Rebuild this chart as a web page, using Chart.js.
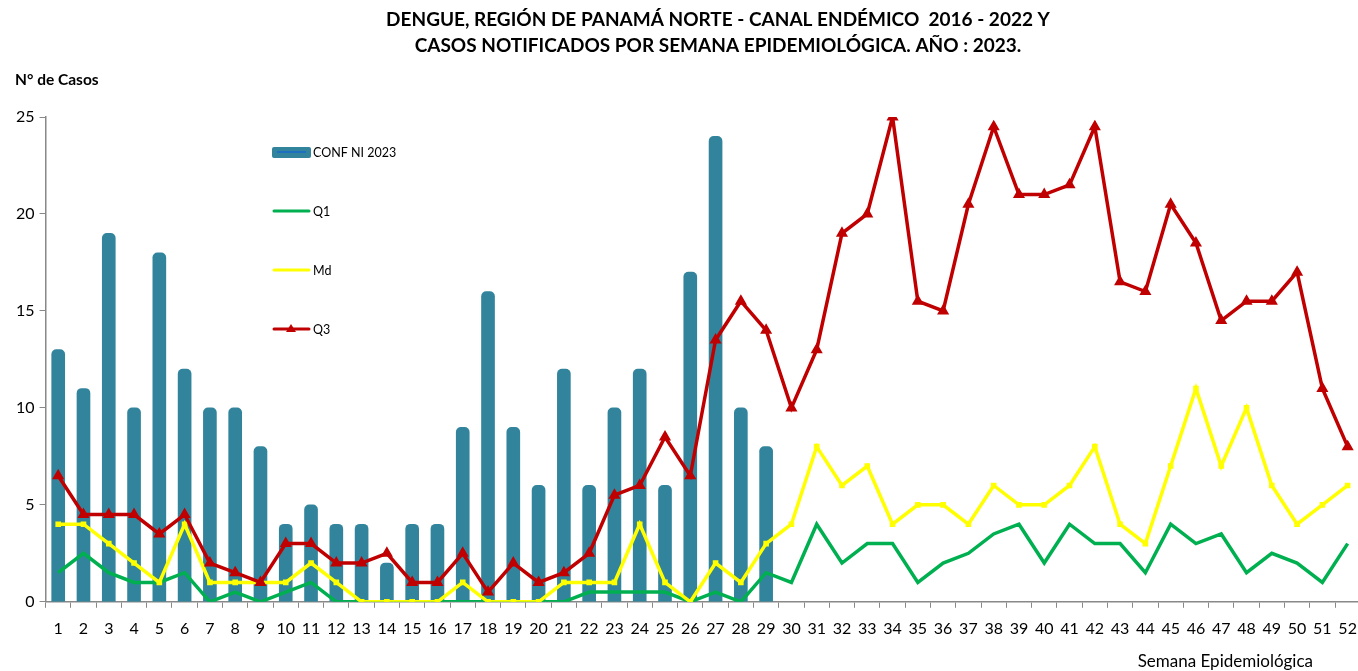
<!DOCTYPE html>
<html lang="es">
<head>
<meta charset="UTF-8">
<title>Dengue - Canal endémico Panamá Norte</title>
<script src="https://cdn.jsdelivr.net/npm/chart.js"></script>
<style>
    body { margin: 0; background: #fff; overflow: hidden; }
    #wrap { width: 1358px; height: 671px; overflow: hidden; }
</style>
</head>
<body>
<div id="wrap"><canvas id="canal" width="1368" height="671"></canvas></div>
<script>
// semanas epidemiologicas
var semanas = [];
for (var s = 1; s <= 52; s++) semanas.push(String(s));

// casos confirmados 2023 (hasta semana 29)
var confNi2023 = [13, 11, 19, 10, 18, 12, 10, 10, 8, 4, 5, 4, 4, 2, 4, 4, 9, 16, 9, 6,
                  12, 6, 10, 12, 6, 17, 24, 10, 8];

// canal endemico 2016 - 2022
var q1 = [1.5, 2.5, 1.5, 1, 1, 1.5, 0, 0.5, 0, 0.5, 1, 0, 0, 0, 0, 0, 0, 0, 0, 0,
          0, 0.5, 0.5, 0.5, 0.5, 0, 0.5, 0, 1.5, 1, 4, 2, 3, 3, 1, 2, 2.5, 3.5, 4, 2,
          4, 3, 3, 1.5, 4, 3, 3.5, 1.5, 2.5, 2, 1, 3];
var md = [4, 4, 3, 2, 1, 4, 1, 1, 1, 1, 2, 1, 0, 0, 0, 0, 1, 0, 0, 0,
          1, 1, 1, 4, 1, 0, 2, 1, 3, 4, 8, 6, 7, 4, 5, 5, 4, 6, 5, 5,
          6, 8, 4, 3, 7, 11, 7, 10, 6, 4, 5, 6];
var q3 = [6.5, 4.5, 4.5, 4.5, 3.5, 4.5, 2, 1.5, 1, 3, 3, 2, 2, 2.5, 1, 1, 2.5, 0.5, 2, 1,
          1.5, 2.5, 5.5, 6, 8.5, 6.5, 13.5, 15.5, 14, 10, 13, 19, 20, 25, 15.5, 15, 20.5, 24.5, 21, 21,
          21.5, 24.5, 16.5, 16, 20.5, 18.5, 14.5, 15.5, 15.5, 17, 11, 8];

var yTicks = [0, 5, 10, 15, 20, 25];

var titulo = ['DENGUE, REGIÓN DE PANAMÁ NORTE - CANAL ENDÉMICO  2016 - 2022 Y',
              'CASOS NOTIFICADOS POR SEMANA EPIDEMIOLÓGICA. AÑO : 2023.'];

var FONT = 'Lato, "Open Sans", sans-serif';

// titulo, leyenda dentro del area y textos sueltos
var extras = {
    id: 'extras',
    afterDraw: function(chart) {
        var c = chart.ctx;
        c.save();
        c.fillStyle = '#000';
        c.textBaseline = 'middle';
        c.textAlign = 'center';
        c.font = 'bold 19px ' + FONT;
        c.fillText(titulo[0], 718, 20);
        c.fillText(titulo[1], 718, 46);

        c.textAlign = 'left';
        c.font = 'bold 15.5px ' + FONT;
        c.fillText('N° de Casos', 15, 80);
        c.font = '17px ' + FONT;
        c.textAlign = 'right';
        c.fillText('Semana Epidemiológica', 1313, 662);

        var x0 = 272, y0 = 152, gap = 59;
        c.textAlign = 'left';
        c.font = '12.5px ' + FONT;
        chart.data.datasets.forEach(function(ds, i) {
            var y = y0 + i * gap;
            if (ds.type === 'bar') {
                c.fillStyle = ds.backgroundColor;
                c.beginPath();
                c.roundRect(x0, y - 5, 39, 11, 2);
                c.fill();
                c.strokeStyle = '#1f6fc0';
                c.lineWidth = 2;
                c.beginPath();
                c.moveTo(x0 + 5, y); c.lineTo(x0 + 34, y); c.stroke();
            } else {
                c.strokeStyle = ds.borderColor;
                c.lineWidth = 3;
                c.lineCap = 'round';
                c.beginPath();
                c.moveTo(x0 + 2, y); c.lineTo(x0 + 37, y); c.stroke();
                if (ds.pointStyle === 'triangle') {
                    c.fillStyle = ds.borderColor;
                    c.beginPath();
                    c.moveTo(x0 + 19, y - 5); c.lineTo(x0 + 24, y + 3); c.lineTo(x0 + 14, y + 3);
                    c.closePath(); c.fill();
                }
            }
            c.fillStyle = '#000';
            c.fillText(ds.label, x0 + 41, y + 1);
        });
        c.restore();
    }
};

new Chart(document.getElementById('canal'), {
    data: {
        labels: semanas,
        datasets: [
            { type: 'bar', label: 'CONF NI 2023', data: confNi2023, backgroundColor: '#31849b',
              barThickness: 13, borderRadius: { topLeft: 5, topRight: 5 }, borderSkipped: 'bottom', order: 4 },
            { type: 'line', label: 'Q1', data: q1, borderColor: '#00b050', backgroundColor: '#00b050',
              borderWidth: 3.5, pointRadius: 0, tension: 0, order: 3 },
            { type: 'line', label: 'Md', data: md, borderColor: '#ffff00', backgroundColor: '#ffff00',
              borderWidth: 3.5, pointRadius: 1.5, pointStyle: 'rect', tension: 0, order: 2 },
            { type: 'line', label: 'Q3', data: q3, borderColor: '#c00000', backgroundColor: '#c00000',
              borderWidth: 3.5, pointRadius: 3.5, pointStyle: 'triangle', tension: 0, order: 1 }
        ]
    },
    options: {
        responsive: false,
        animation: false,
        layout: { padding: { left: 11, right: 0, top: 117, bottom: 22 } },
        plugins: {
            legend: { display: false },
            tooltip: { enabled: false },
            title: { display: false }
        },
        scales: {
            x: {
                offset: true,
                grid: { offset: true, drawOnChartArea: false, drawTicks: true, tickLength: 6, color: '#888' },
                border: { display: true, color: '#888', width: 1.5 },
                ticks: { color: '#000', font: { family: FONT, size: 16 }, maxRotation: 0, autoSkip: false, padding: 11 }
            },
            y: {
                min: 0, max: 25,
                afterBuildTicks: function(axis) { axis.ticks = yTicks.map(function(v) { return { value: v }; }); },
                grid: { drawOnChartArea: false, drawTicks: true, tickLength: 6, color: '#888' },
                border: { display: true, color: '#888', width: 1.5 },
                ticks: { color: '#000', font: { family: FONT, size: 16 }, padding: 5 }
            }
        }
    },
    plugins: [extras]
});
</script>
</body>
</html>
